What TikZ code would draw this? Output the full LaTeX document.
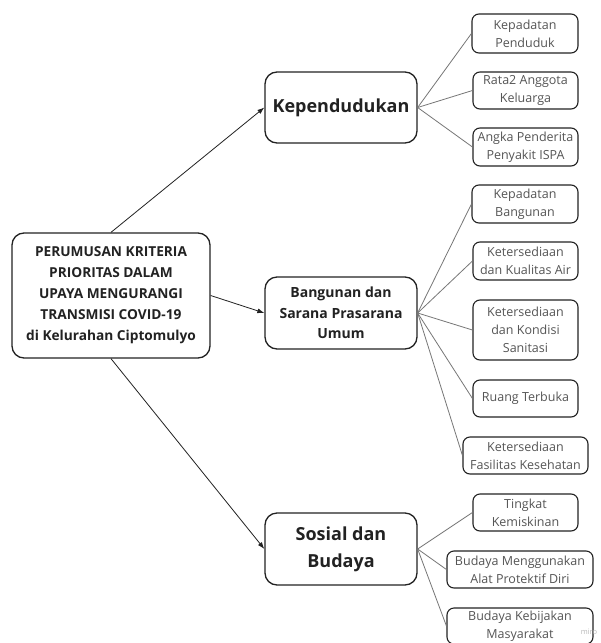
\documentclass[tikz,border=0pt]{standalone}
\usepackage{fontspec}
\setmainfont{Open Sans}
\usetikzlibrary{arrows.meta}
\definecolor{inkmain}{HTML}{222222}
\definecolor{inkleaf}{HTML}{555555}
\definecolor{edgeleaf}{HTML}{777777}
\def\leaf#1(#2,#3)#4#5#6{\node [leafbox,minimum width=#4pt,minimum height=#5pt] (#1) at (#2,#3) {#6};}

\begin{document}
\begin{tikzpicture}[x=1pt,y=-1pt,
  mainbox/.style={draw=inkmain,line width=1.3pt,rounded corners=12pt,align=center,
    text=inkmain,inner sep=0pt,minimum width=152pt,minimum height=72pt},
  leafbox/.style={draw=inkmain,line width=1.1pt,rounded corners=7pt,align=center,
    text=inkleaf,font=\fontsize{12.5}{18}\selectfont,inner sep=0pt},
  twig/.style={edgeleaf,line width=0.8pt},
  branch/.style={inkmain,line width=0.8pt,-{Latex[length=7pt,width=5pt]}}]
  \useasboundingbox (0,0) rectangle (601,643);
  \clip (0,0) rectangle (601,643);
  \fill [white] (0,0) rectangle (601,643);
% root and main groups
\node [mainbox,minimum width=198pt,minimum height=125pt,font=\bfseries\fontsize{13.7}{21}\selectfont]
  (root) at (111,295.5) {PERUMUSAN KRITERIA\\PRIORITAS DALAM\\UPAYA MENGURANGI\\TRANSMISI COVID-19\\di Kelurahan Ciptomulyo};
\node [mainbox,minimum height=71pt,font=\bfseries\fontsize{18}{27}\selectfont] (kepend) at (341,107.5) {Kependudukan};
\node [mainbox,font=\bfseries\fontsize{14}{20.5}\selectfont] (bangun) at (341,313) {Bangunan dan\\Sarana Prasarana\\Umum};
\node [mainbox,font=\bfseries\fontsize{18}{27}\selectfont] (sosial) at (341,549) {Sosial dan\\Budaya};
% leaves
\leaf padatpend(525,33.5){106}{39}{Kepadatan\\Penduduk}
\leaf rata(525.5,90.5){105}{37}{Rata2 Anggota\\Keluarga}
\leaf ispa(525.5,147){105}{38}{Angka Penderita\\Penyakit ISPA}
\leaf padatbang(525,204){106}{38}{Kepadatan\\Bangunan}
\leaf air(525.5,261){105}{38}{Ketersediaan\\dan Kualitas Air}
\leaf sanitasi(525.5,330){105}{60}{Ketersediaan\\dan Kondisi\\Sanitasi}
\leaf ruang(525.5,398.5){105}{37}{Ruang Terbuka}
\leaf faskes(525.5,455.5){125}{37}{Ketersediaan\\Fasilitas Kesehatan}
\leaf miskin(525.5,512.5){105}{37}{Tingkat\\Kemiskinan}
\leaf apd(520,569.5){146}{37}{Budaya Menggunakan\\Alat Protektif Diri}
\leaf kebijakan(520,626){146}{36}{Budaya Kebijakan\\Masyarakat}
\node [text=gray!55,font=\fontsize{7.5}{8}\selectfont] (miro) at (589,632) {miro};
% connectors
\draw [branch] (root.north) -- (kepend.west);
\draw [branch] (root.east) -- (bangun.west);
\draw [branch] (root.south) -- (sosial.west);
\foreach \leafname in {padatpend,rata,ispa} \draw [twig] (kepend.east) -- (\leafname.west);
\foreach \leafname in {padatbang,air,sanitasi,ruang,faskes} \draw [twig] (bangun.east) -- (\leafname.west);
\foreach \leafname in {miskin,apd,kebijakan} \draw [twig] (sosial.east) -- (\leafname.west);
\end{tikzpicture}
\end{document}
